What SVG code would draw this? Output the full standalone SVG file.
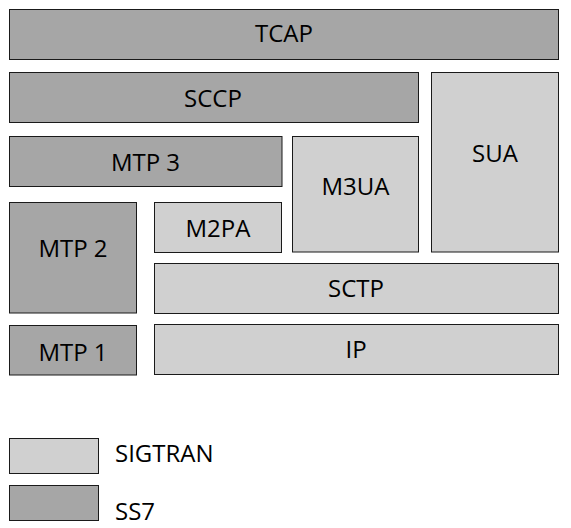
<svg xmlns="http://www.w3.org/2000/svg" width="571" height="528" viewBox="0 0 571 528">
<style>
.ss7{fill:#a6a6a6;stroke:#1a1a1a;stroke-width:1}
.sig{fill:#d0d0d0;stroke:#1a1a1a;stroke-width:1}
text{font-family:"Open Sans","Noto Sans",sans-serif;font-size:24px;fill:#000}
.c{text-anchor:middle}
</style>
<rect width="571" height="528" fill="#ffffff"/>
<g id="tcap"><rect class="ss7" x="9.5" y="9.5" width="549" height="50"/><text class="c" x="284" y="42.3">TCAP</text></g>
<g id="sccp"><rect class="ss7" x="9.5" y="72.5" width="409" height="50"/><text class="c" x="213" y="106.7">SCCP</text></g>
<g id="sua"><rect class="sig" x="431.5" y="72.5" width="127" height="179.5"/><text class="c" x="495" y="161.7">SUA</text></g>
<g id="mtp3"><rect class="ss7" x="9.5" y="136.5" width="272.5" height="50"/><text class="c" x="145.5" y="171">MTP 3</text></g>
<g id="m3ua"><rect class="sig" x="292.5" y="136.5" width="126" height="115.5"/><text class="c" x="355.5" y="195">M3UA</text></g>
<g id="mtp2"><rect class="ss7" x="9.5" y="202.5" width="127" height="110.5"/><text class="c" x="73" y="257.3">MTP 2</text></g>
<g id="m2pa"><rect class="sig" x="154.5" y="202.5" width="127" height="50"/><text class="c" x="218" y="236.7">M2PA</text></g>
<g id="sctp"><rect class="sig" x="154.5" y="263.5" width="404" height="50"/><text class="c" x="356" y="296.7">SCTP</text></g>
<g id="mtp1"><rect class="ss7" x="9.5" y="325.5" width="127" height="49.5"/><text class="c" x="73" y="360.7">MTP 1</text></g>
<g id="ip"><rect class="sig" x="154.5" y="324.5" width="404" height="50"/><text class="c" x="356" y="358.3">IP</text></g>
<g id="legend-sigtran"><rect class="sig" x="9.5" y="438.5" width="89" height="35"/><text x="115" y="461.7">SIGTRAN</text></g>
<g id="legend-ss7"><rect class="ss7" x="9.5" y="485.5" width="89" height="35"/><text x="115" y="519.5">SS7</text></g>
<g id="connectors"></g>
</svg>
